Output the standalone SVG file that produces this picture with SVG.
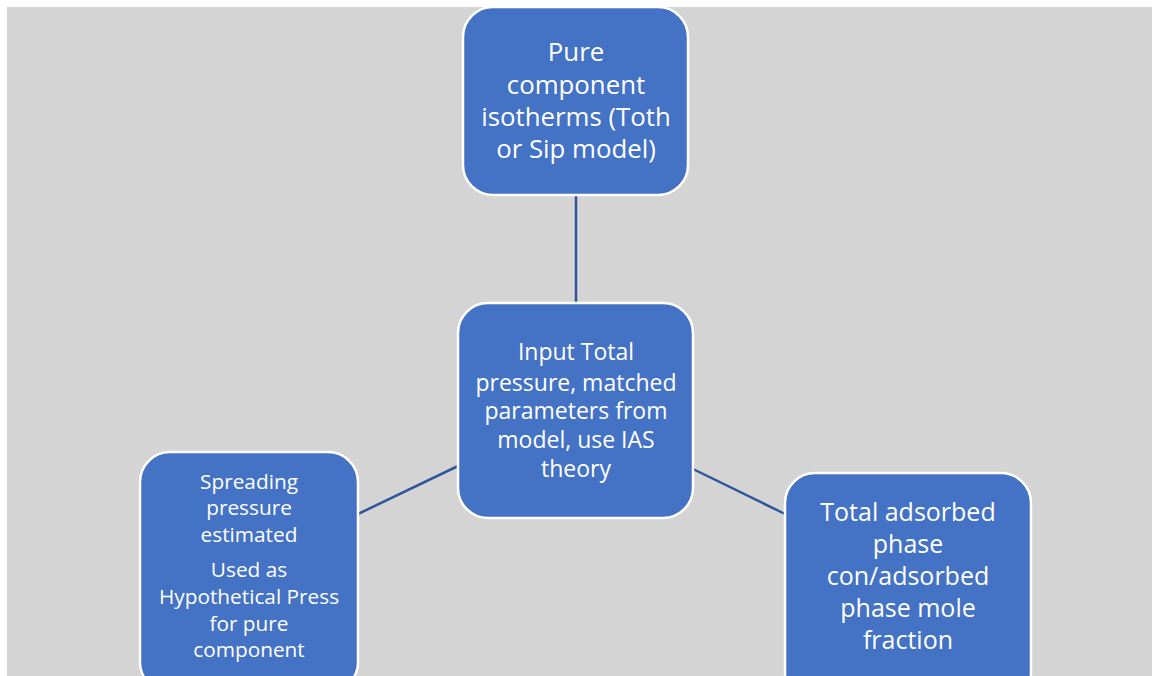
<svg xmlns="http://www.w3.org/2000/svg" width="1152" height="676" viewBox="0 0 1152 676">
<style>
.box{fill:#4472c4;stroke:#ffffff;stroke-width:2.5}
.lbl{font-family:"Open Sans","Liberation Sans",sans-serif;fill:#ffffff;text-anchor:middle}
.conn{stroke:#2f569c;stroke-width:2.5;fill:none}
</style>
<rect x="0" y="0" width="1152" height="676" fill="#ffffff"/>
<rect x="7" y="7" width="1145" height="669" fill="#d4d4d4"/>
<g id="connectors">
<line class="conn" x1="576" y1="195" x2="576" y2="303"/>
<line class="conn" x1="358" y1="514" x2="458" y2="466"/>
<line class="conn" x1="693" y1="469" x2="785" y2="514"/>
</g>
<g id="node-top">
<rect class="box" x="463" y="7" width="225" height="188" rx="30"/>
<text class="lbl" font-size="25.8" x="576"><tspan x="576" y="61">Pure</tspan><tspan x="576" y="94">component</tspan><tspan x="576" y="126">isotherms (Toth</tspan><tspan x="576" y="158">or Sip model)</tspan></text>
</g>
<g id="node-center">
<rect class="box" x="458" y="303" width="235" height="215" rx="30"/>
<text class="lbl" font-size="23" x="576"><tspan x="576" y="360">Input Total</tspan><tspan x="576" y="391">pressure, matched</tspan><tspan x="576" y="419">parameters from</tspan><tspan x="576" y="448">model, use IAS</tspan><tspan x="576" y="477">theory</tspan></text>
</g>
<g id="node-left">
<rect class="box" x="140" y="452" width="218" height="240" rx="30"/>
<text class="lbl" font-size="20.8" x="249"><tspan x="249" y="489">Spreading</tspan><tspan x="249" y="515">pressure</tspan><tspan x="249" y="542">estimated</tspan><tspan x="249" y="577">Used as</tspan><tspan x="249" y="604">Hypothetical Press</tspan><tspan x="249" y="631">for pure</tspan><tspan x="249" y="657">component</tspan></text>
</g>
<g id="node-right">
<rect class="box" x="785" y="473" width="246" height="230" rx="30"/>
<text class="lbl" font-size="25" x="908"><tspan x="908" y="521">Total adsorbed</tspan><tspan x="908" y="553">phase</tspan><tspan x="908" y="585">con/adsorbed</tspan><tspan x="908" y="617">phase mole</tspan><tspan x="908" y="649">fraction</tspan></text>
</g>
</svg>
